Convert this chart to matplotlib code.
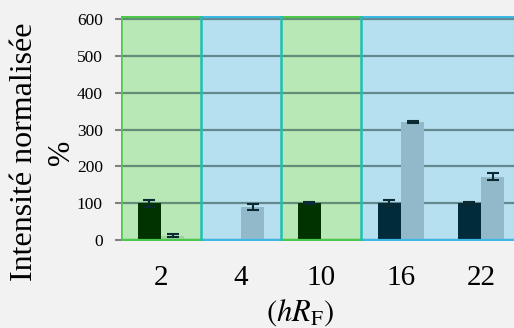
import matplotlib
matplotlib.use("Agg")
import matplotlib.pyplot as plt
from matplotlib.patches import Rectangle
import numpy as np

categories = ["2", "4", "10", "16", "22"]
series_a = [100, 2, 100, 100, 100]
series_a_err = [10, 0, 3, 8, 3]
series_b = [12, 90, 2, 320, 172]
series_b_err = [4, 8, 0, 3, 10]
column_kind = ["green", "blue", "green", "blue", "blue"]
yticks = [0, 100, 200, 300, 400, 500, 600]

plt.rcParams['font.family'] = ['Liberation Serif', 'DejaVu Serif']
plt.rcParams['mathtext.fontset'] = 'stix'

fig = plt.figure(figsize=(5.14, 3.28), dpi=100)
fig.patch.set_facecolor('#f2f2f2')
ax = fig.add_axes([121/514, 1-241.1/328, 1-121/514, (241.1-15.8)/328])
ax.set_facecolor('#f2f2f2')

styles = {
    "green": dict(bg='#b7e8b5', edge='#4cc94c', dark='#003300', light='#9fd49f'),
    "blue": dict(bg='#b6e0f0', edge='#3cb8e4', dark='#012b3a', light='#92b9c9'),
}

x = np.arange(len(categories))
top = 608
for i, k in enumerate(column_kind):
    s = styles[k]
    ax.add_patch(Rectangle((i-0.5, 0), 1, top, facecolor=s['bg'], edgecolor='none', zorder=0))
for yv in yticks:
    ax.axhline(yv, color='#3a5a5a', alpha=0.65, lw=1.6, zorder=1)
for i, k in enumerate(column_kind):
    s = styles[k]
    ax.plot([i-0.5, i+0.5], [top, top], color=s['edge'], lw=1.6, zorder=4, solid_capstyle='butt')
    ax.plot([i-0.5, i+0.5], [0, 0], color=s['edge'], lw=1.6, zorder=4, solid_capstyle='butt')
# left edge
ax.plot([-0.5, -0.5], [0, top], color=styles[column_kind[0]]['edge'], lw=1.8, zorder=5)
# boundaries between green/blue columns: teal
for i in range(1, len(categories)):
    if column_kind[i] != column_kind[i-1]:
        ax.plot([i-0.5, i-0.5], [0, top], color='#20bfb0', lw=1.8, zorder=5)

w = 0.29
for i, k in enumerate(column_kind):
    s = styles[k]
    ax.bar(x[i]-w/2, series_a[i], w, color=s['dark'], zorder=3)
    ax.bar(x[i]+w/2, series_b[i], w, color=s['light'], zorder=3)
    if series_a_err[i] > 0:
        ax.errorbar(x[i]-w/2, series_a[i], yerr=series_a_err[i], fmt='none',
                    ecolor='#0b2a33', elinewidth=1.5, capsize=4.3, capthick=1.5, zorder=6)
    if series_b_err[i] > 0:
        ax.errorbar(x[i]+w/2, series_b[i], yerr=series_b_err[i], fmt='none',
                    ecolor='#0b2a33', elinewidth=1.5, capsize=4.3, capthick=1.5, zorder=6)

ax.set_xlim(-0.5, -0.5 + 393/80)
ax.set_ylim(-3, 610)
for sp in ax.spines.values():
    sp.set_visible(False)
ax.set_yticks(yticks)
ax.set_yticklabels([str(v) for v in yticks], fontsize=12.5)
ax.tick_params(axis='y', length=4, width=1.5, color='#808080', pad=9)
ax.set_xticks(x)
ax.set_xticklabels(categories, fontsize=21)
ax.tick_params(axis='x', length=0, pad=17)

fig.text(25/514, 1-152/328, "Intensité normalisée", rotation=90, fontsize=23,
         ha='center', va='center')
fig.text(62/514, 1-152/328, "%", rotation=90, fontsize=22, ha='center', va='center')
fig.text(300/514, 1-313/328, r'$(hR_{\mathrm{F}})$', fontsize=22, ha='center', va='center')

fig.savefig("out.png", dpi=100, facecolor=fig.get_facecolor())
